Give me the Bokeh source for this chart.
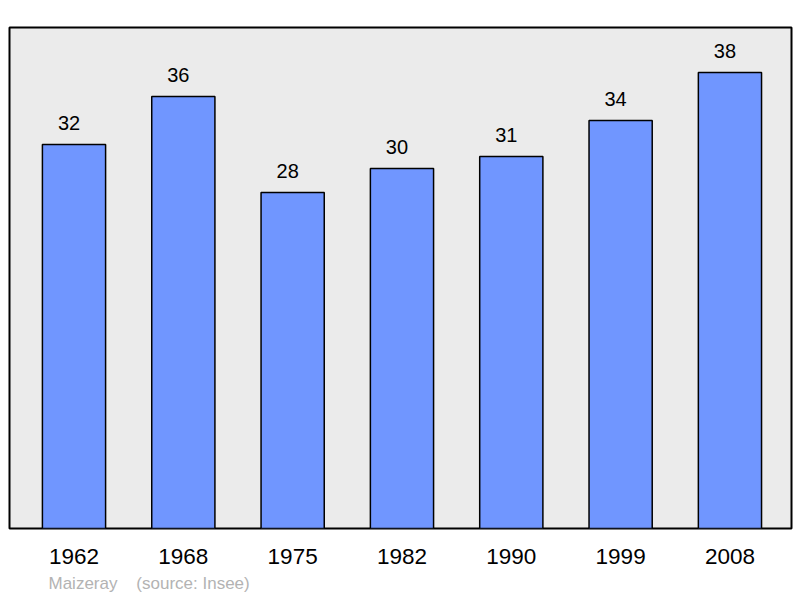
from bokeh.plotting import figure
from bokeh.models import Range1d, FixedTicker, ColumnDataSource, LabelSet, Title
from bokeh.core.properties import value
from bokeh.embed import file_html
from bokeh.resources import INLINE

years = ["1962", "1968", "1975", "1982", "1990", "1999", "2008"]
population = [32, 36, 28, 30, 31, 34, 38]
footer = "Maizeray\u00a0\u00a0\u00a0\u00a0(source: Insee)"

xs = list(range(len(years)))
src = ColumnDataSource(dict(x=xs, top=population, label=[str(v) for v in population]))

p = figure(width=800, height=598, output_backend="svg", toolbar_location=None,
           x_range=Range1d(-0.59, 6.563), y_range=Range1d(0, 41.75),
           min_border_left=9, min_border_right=9, min_border_top=27, min_border_bottom=70)
p.background_fill_color = "#ebebeb"
p.border_fill_color = "white"
p.outline_line_color = "black"
p.outline_line_width = 2
p.grid.visible = False
p.yaxis.visible = False

p.vbar(x="x", top="top", width=0.578, bottom=0, source=src,
       fill_color="#7096ff", line_color="black", line_width=1.5)

labels = LabelSet(x="x", y="top", text="label", source=src, y_offset=15, x_offset=-5,
                  text_align="center", text_baseline="bottom",
                  text_font=value("Liberation Sans"), text_font_size=value("20px"),
                  text_color=value("black"))
p.add_layout(labels)

ax = p.xaxis[0]
ax.ticker = FixedTicker(ticks=xs)
ax.major_label_overrides = {i: y for i, y in enumerate(years)}
ax.axis_line_color = None
ax.major_tick_line_color = None
ax.minor_tick_line_color = None
ax.major_label_standoff = 14
ax.major_label_text_font = "Liberation Sans"
ax.major_label_text_font_size = "22.5px"
ax.major_label_text_color = "black"

t = Title(text=footer, align="left", offset=39, text_font="Liberation Sans",
          text_font_size="17px", text_font_style="normal", text_color="#b3b3b3",
          standoff=10)
p.add_layout(t, "below")

open("out.html", "w").write(file_html(p, INLINE))
